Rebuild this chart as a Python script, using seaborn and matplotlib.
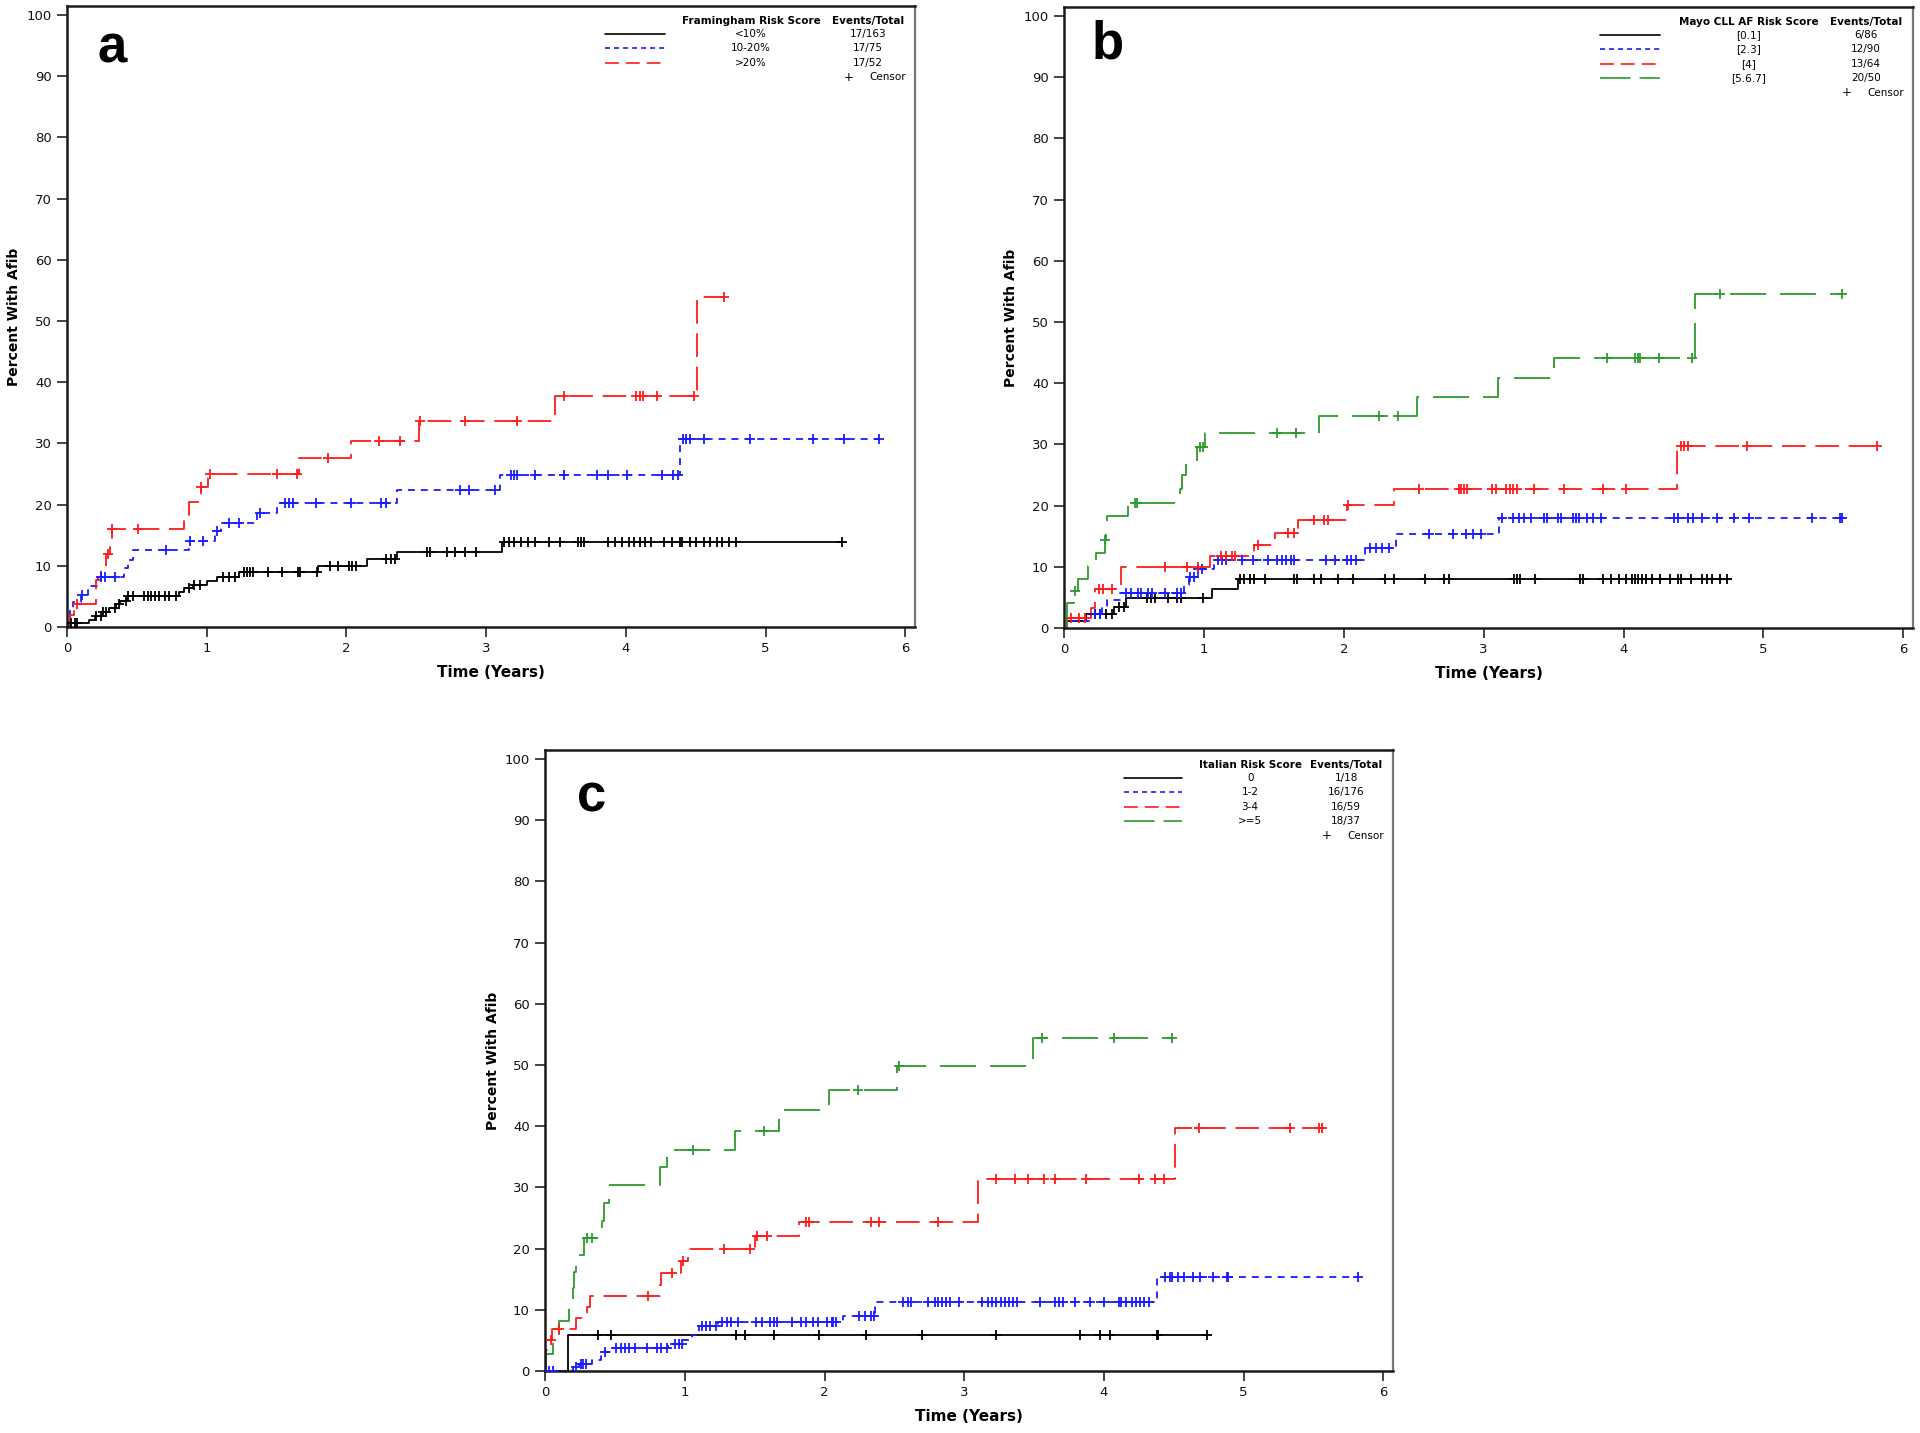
import matplotlib
matplotlib.use("Agg")
import matplotlib.pyplot as plt
import numpy as np
import seaborn as sns

# ---------------- data ----------------
# each curve: step times, cumulative % after each step, end of follow-up, censor times

# panel a - Framingham risk score
A_LOW_T = [0, 0.02, 0.16, 0.20, 0.25, 0.30, 0.35, 0.38, 0.43, 0.80, 0.84, 0.90, 1.00, 1.07, 1.23, 1.80, 2.15, 2.36, 3.11]
A_LOW_Y = [0, 0.6, 1.2, 1.8, 2.5, 3.1, 3.7, 4.3, 5.0, 5.7, 6.3, 6.8, 7.5, 8.2, 9.0, 10.0, 11.1, 12.3, 13.8]
A_LOW_END = 5.56
A_LOW_CENS = [0.03, 0.06, 0.07, 0.21, 0.24, 0.26, 0.28, 0.34, 0.37, 0.42, 0.44, 0.47, 0.55, 0.58, 0.60,
              0.63, 0.66, 0.70, 0.73, 0.78, 0.87, 0.91, 0.95, 1.12, 1.16, 1.20, 1.27, 1.29, 1.31, 1.33,
              1.44, 1.54, 1.65, 1.67, 1.79, 1.88, 1.94, 2.02, 2.04, 2.07, 2.28, 2.32, 2.35, 2.58, 2.60,
              2.72, 2.78, 2.85, 2.93, 3.13, 3.16, 3.20, 3.25, 3.30, 3.35, 3.45, 3.53, 3.66, 3.68, 3.70,
              3.87, 3.92, 3.97, 4.02, 4.06, 4.10, 4.14, 4.18, 4.27, 4.33, 4.39, 4.40, 4.46, 4.50, 4.56,
              4.60, 4.65, 4.69, 4.74, 4.79, 5.55]

A_MID_T = [0, 0.01, 0.02, 0.04, 0.10, 0.15, 0.22, 0.41, 0.44, 0.47, 0.87, 1.06, 1.10, 1.36, 1.50, 2.36, 3.10, 4.39]
A_MID_Y = [0, 1.3, 2.7, 4.0, 5.3, 6.7, 8.1, 9.6, 11.0, 12.5, 14.0, 15.6, 17.0, 18.7, 20.3, 22.4, 24.9, 30.7]
A_MID_END = 5.81
A_MID_CENS = [0.11, 0.24, 0.27, 0.34, 0.71, 0.88, 0.97, 1.07, 1.16, 1.23, 1.38, 1.56, 1.59, 1.62, 1.78,
              2.03, 2.25, 2.28, 2.81, 2.88, 3.06, 3.18, 3.20, 3.22, 3.35, 3.56, 3.79, 3.87, 4.01, 4.26,
              4.34, 4.37, 4.41, 4.43, 4.46, 4.56, 4.89, 5.34, 5.56, 5.81]

A_HIGH_T = [0, 0.02, 0.05, 0.21, 0.24, 0.28, 0.31, 0.32, 0.835, 0.87, 0.96, 1.01, 1.66, 2.03, 2.52, 3.49, 4.51]
A_HIGH_Y = [0, 1.9, 3.8, 7.7, 9.8, 11.9, 14.0, 16.0, 18.3, 20.5, 22.8, 25.0, 27.6, 30.4, 33.7, 37.8, 53.9]
A_HIGH_END = 4.70
A_HIGH_CENS = [0.07, 0.29, 0.32, 0.51, 0.96, 1.02, 1.50, 1.645, 1.87, 2.23, 2.38, 2.53, 2.85, 3.22,
               3.56, 4.07, 4.10, 4.12, 4.22, 4.49, 4.70]

A_TITLE = "Framingham Risk Score"
A_GROUPS = ["<10%", "10-20%", ">20%"]
A_EVENTS = ["17/163", "17/75", "17/52"]

# panel b - Mayo CLL AF risk score
B_01_T = [0, 0.02, 0.16, 0.36, 0.44, 1.06, 1.245]
B_01_Y = [0, 1.2, 2.3, 3.5, 4.9, 6.4, 8.0]
B_01_END = 4.76
B_01_CENS = [0.22, 0.26, 0.30, 0.34, 0.39, 0.43, 0.59, 0.62, 0.65, 0.74, 0.81, 0.835, 0.995, 1.255,
             1.29, 1.33, 1.36, 1.435, 1.645, 1.665, 1.79, 1.835, 1.96, 2.065, 2.295, 2.36, 2.58,
             2.715, 2.75, 3.22, 3.24, 3.26, 3.365, 3.69, 3.71, 3.85, 3.91, 3.97, 4.02, 4.06, 4.08,
             4.10, 4.13, 4.16, 4.20, 4.26, 4.33, 4.39, 4.41, 4.48, 4.56, 4.60, 4.63, 4.69, 4.74]

B_23_T = [0, 0.02, 0.19, 0.27, 0.31, 0.40, 0.86, 0.89, 0.96, 1.07, 2.15, 2.37, 3.11]
B_23_Y = [0, 1.1, 2.3, 3.5, 4.6, 5.7, 7.0, 8.4, 9.7, 11.1, 13.0, 15.3, 18.0]
B_23_END = 5.56
B_23_CENS = [0.22, 0.26, 0.44, 0.48, 0.53, 0.55, 0.60, 0.63, 0.72, 0.81, 0.835, 0.90, 0.93, 0.96,
             0.985, 1.10, 1.13, 1.16, 1.27, 1.35, 1.46, 1.52, 1.56, 1.59, 1.62, 1.645, 1.875, 1.94,
             2.02, 2.05, 2.085, 2.19, 2.23, 2.27, 2.32, 2.61, 2.78, 2.875, 2.925, 2.98, 3.13, 3.21,
             3.25, 3.29, 3.34, 3.43, 3.45, 3.53, 3.555, 3.64, 3.66, 3.68, 3.74, 3.785, 3.84, 4.36,
             4.39, 4.46, 4.50, 4.56, 4.67, 4.79, 4.90, 5.35, 5.55, 5.56]

B_4_T = [0, 0.02, 0.19, 0.22, 0.41, 1.045, 1.36, 1.51, 1.67, 2.02, 2.36, 4.385]
B_4_Y = [0, 1.6, 3.2, 6.4, 9.9, 11.7, 13.6, 15.5, 17.7, 20.1, 22.7, 29.8]
B_4_END = 5.81
B_4_CENS = [0.05, 0.11, 0.15, 0.25, 0.28, 0.34, 0.72, 0.88, 0.96, 1.12, 1.16, 1.20, 1.225, 1.385,
            1.60, 1.645, 1.79, 1.855, 1.885, 2.03, 2.535, 2.82, 2.84, 2.86, 2.88, 3.06, 3.09, 3.16,
            3.19, 3.21, 3.24, 3.36, 3.575, 3.85, 4.02, 4.41, 4.43, 4.46, 4.885, 5.81]

B_567_T = [0, 0.02, 0.07, 0.10, 0.17, 0.23, 0.29, 0.30, 0.31, 0.46, 0.83, 0.84, 0.87, 0.95, 1.01,
           1.82, 2.52, 3.105, 3.50, 4.51]
B_567_Y = [0, 4.0, 6.0, 8.0, 10.1, 12.2, 14.3, 16.3, 18.3, 20.5, 22.7, 25.0, 27.3, 29.6, 31.9,
           34.6, 37.8, 40.9, 44.1, 54.5]
B_567_END = 5.56
B_567_CENS = [0.08, 0.29, 0.51, 0.525, 0.975, 0.995, 1.52, 1.66, 2.25, 2.39, 3.88, 4.08, 4.10, 4.12,
              4.25, 4.49, 4.69, 5.56]

B_TITLE = "Mayo CLL AF Risk Score"
B_GROUPS = ["[0.1]", "[2.3]", "[4]", "[5.6.7]"]
B_EVENTS = ["6/86", "12/90", "13/64", "20/50"]

# panel c - Italian risk score
C_0_T = [0, 0.163]
C_0_Y = [0, 5.8]
C_0_END = 4.74
C_0_CENS = [0.38, 0.47, 1.37, 1.43, 1.64, 1.96, 2.30, 2.70, 3.23, 3.83, 3.97, 4.04, 4.38, 4.39, 4.74]

C_12_T = [0, 0.20, 0.24, 0.335, 0.40, 0.42, 0.47, 0.88, 0.99, 1.05, 1.10, 1.24, 2.13, 2.36, 4.38]
C_12_Y = [0, 0.6, 1.2, 1.8, 2.5, 3.1, 3.7, 4.4, 5.1, 5.8, 7.3, 8.0, 9.0, 11.2, 15.3]
C_12_END = 5.82
C_12_CENS = [0.03, 0.06, 0.22, 0.26, 0.27, 0.29, 0.43, 0.51, 0.545, 0.575, 0.60, 0.64, 0.73, 0.80,
             0.83, 0.87, 0.93, 0.96, 0.98, 1.12, 1.15, 1.18, 1.22, 1.265, 1.30, 1.33, 1.38, 1.51,
             1.55, 1.61, 1.64, 1.66, 1.77, 1.83, 1.87, 1.915, 1.955, 2.02, 2.05, 2.06, 2.08, 2.25,
             2.29, 2.33, 2.355, 2.56, 2.60, 2.62, 2.74, 2.79, 2.81, 2.84, 2.87, 2.90, 2.96, 3.13,
             3.17, 3.20, 3.23, 3.26, 3.29, 3.32, 3.35, 3.38, 3.54, 3.65, 3.68, 3.71, 3.79, 3.90,
             4.00, 4.105, 4.125, 4.155, 4.20, 4.23, 4.26, 4.29, 4.32, 4.44, 4.47, 4.49, 4.53, 4.57,
             4.64, 4.69, 4.78, 4.88, 4.89, 5.82]

C_34_T = [0, 0.005, 0.02, 0.05, 0.22, 0.30, 0.32, 0.82, 0.83, 0.97, 1.02, 1.50, 1.82, 3.10, 4.51]
C_34_Y = [0, 3.4, 5.1, 6.8, 8.6, 10.4, 12.2, 14.1, 16.0, 18.0, 19.9, 22.0, 24.4, 31.3, 39.7]
C_34_END = 5.56
C_34_CENS = [0.04, 0.10, 0.74, 0.91, 0.99, 1.28, 1.47, 1.52, 1.59, 1.87, 1.89, 2.33, 2.39, 2.81,
             3.23, 3.36, 3.46, 3.57, 3.65, 3.875, 4.25, 4.365, 4.43, 4.68, 5.33, 5.54, 5.56]

C_5_T = [0, 0.01, 0.06, 0.10, 0.17, 0.20, 0.21, 0.22, 0.28, 0.41, 0.42, 0.46, 0.82, 0.875, 1.36,
         1.675, 2.03, 2.52, 3.49]
C_5_Y = [0, 2.7, 5.4, 8.1, 10.8, 13.5, 16.2, 18.9, 21.7, 24.5, 27.5, 30.4, 33.3, 36.1, 39.2,
         42.6, 45.9, 49.8, 54.4]
C_5_END = 4.49
C_5_CENS = [0.30, 0.335, 1.06, 1.57, 2.24, 2.53, 3.56, 4.07, 4.49]

C_TITLE = "Italian Risk Score"
C_GROUPS = ["0", "1-2", "3-4", ">=5"]
C_EVENTS = ["1/18", "16/176", "16/59", "18/37"]

X_TICKS = [0, 1, 2, 3, 4, 5, 6]
Y_TICKS = [0, 10, 20, 30, 40, 50, 60, 70, 80, 90, 100]

# ---------------- style ----------------
sns.set_style("ticks")
plt.rcParams["font.family"] = ["DejaVu Sans"]
plt.rcParams["lines.scale_dashes"] = False
plt.rcParams["text.color"] = "black"
plt.rcParams["axes.labelcolor"] = "black"

COLORS = ["black", "#1a1aff", "#ff1a1a", "#2e9a2e"]
LINE_STYLES = ["-", (0, (5, 4.3)), (0, (17, 7)), (0, (26, 10))]
LEGEND_STYLES = ["-", (0, (3.6, 2.9)), (0, (10, 5)), (0, (22, 6.5))]

AX_W, AX_H = 848.0, 621.0  # axes size in pixels


def draw_curve(ax, times, levels, end, cens, idx):
    xs = list(times) + [end]
    ys = list(levels) + [levels[-1]]
    sns.lineplot(x=xs, y=ys, ax=ax, color=COLORS[idx], linestyle=LINE_STYLES[idx],
                 drawstyle="steps-post", estimator=None, sort=False, linewidth=1.3)
    t = np.asarray(times)
    cy = [levels[np.searchsorted(t, c, side="right") - 1] for c in cens]
    sns.scatterplot(x=cens, y=cy, ax=ax, marker="+", s=46, color=COLORS[idx],
                    linewidth=1.3, zorder=3)


def px(ax, dx, dy):
    # offset in pixels from the top-right corner of the axes -> axes fraction
    return 1 + dx / AX_W, 1 - dy / AX_H


def draw_legend(ax, title, groups, events, label_c, line_x):
    fs = 7.5
    x, y = px(ax, label_c, 15)
    ax.text(x, y, title, transform=ax.transAxes, ha="center", va="center",
            fontsize=fs, fontweight="bold")
    x, y = px(ax, -47, 15)
    ax.text(x, y, "Events/Total", transform=ax.transAxes, ha="center", va="center",
            fontsize=fs, fontweight="bold")
    for i, (g, e) in enumerate(zip(groups, events)):
        dy = 28 + 14.5 * i
        x0, y0 = px(ax, line_x[0], dy)
        x1, _ = px(ax, line_x[1], dy)
        ax.plot([x0, x1], [y0, y0], transform=ax.transAxes, color=COLORS[i],
                linestyle=LEGEND_STYLES[i], linewidth=1.2, clip_on=False)
        x, y = px(ax, label_c, dy)
        ax.text(x, y, g, transform=ax.transAxes, ha="center", va="center", fontsize=fs)
        x, y = px(ax, -47, dy)
        ax.text(x, y, e, transform=ax.transAxes, ha="center", va="center", fontsize=fs)
    dy = 28 + 14.5 * len(groups)
    x, y = px(ax, -66, dy)
    ax.text(x, y, "+", transform=ax.transAxes, ha="center", va="center", fontsize=fs + 1)
    x, y = px(ax, -9, dy)
    ax.text(x, y, "Censor", transform=ax.transAxes, ha="right", va="center", fontsize=fs)


def style_axes(ax, letter, lx, ly):
    ax.set_xlim(0, 6.07)
    ax.set_ylim(0, 101.5)
    ax.set_xticks(X_TICKS)
    ax.set_yticks(Y_TICKS)
    ax.tick_params(direction="out", length=7, width=1.1, labelsize=9.5, pad=4,
                   colors="#111111")
    ax.set_xlabel("Time (Years)", fontsize=11, fontweight="bold")
    ax.set_ylabel("Percent With Afib", fontsize=10, fontweight="bold")
    ax.xaxis.set_label_coords(0.5, -0.074)
    ax.xaxis.label.set_va("center")
    ax.yaxis.set_label_coords(-0.062, 0.5)
    ax.yaxis.label.set_va("center")
    for side in ["left", "bottom", "top"]:
        ax.spines[side].set_linewidth(1.8)
        ax.spines[side].set_color("#1a1a1a")
    ax.spines["right"].set_linewidth(1.6)
    ax.spines["right"].set_color("#777777")
    ax.text(lx, ly, letter, transform=ax.transAxes, ha="center", va="center",
            fontsize=38, fontweight="bold", color="black",
            family=["Liberation Sans", "DejaVu Sans"])


fig = plt.figure(figsize=(19.2, 14.33), dpi=100)
ax_a = fig.add_axes([0.0349, 0.5625, 0.4417, 0.4334])
ax_b = fig.add_axes([0.5542, 0.5618, 0.4422, 0.4334])
ax_c = fig.add_axes([0.2839, 0.0433, 0.4417, 0.4334])

# panel a
draw_curve(ax_a, A_LOW_T, A_LOW_Y, A_LOW_END, A_LOW_CENS, 0)
draw_curve(ax_a, A_MID_T, A_MID_Y, A_MID_END, A_MID_CENS, 1)
draw_curve(ax_a, A_HIGH_T, A_HIGH_Y, A_HIGH_END, A_HIGH_CENS, 2)
style_axes(ax_a, "a", 0.053, 0.932)
draw_legend(ax_a, A_TITLE, A_GROUPS, A_EVENTS, -164, (-310, -250))

# panel b
draw_curve(ax_b, B_01_T, B_01_Y, B_01_END, B_01_CENS, 0)
draw_curve(ax_b, B_23_T, B_23_Y, B_23_END, B_23_CENS, 1)
draw_curve(ax_b, B_4_T, B_4_Y, B_4_END, B_4_CENS, 2)
draw_curve(ax_b, B_567_T, B_567_Y, B_567_END, B_567_CENS, 3)
style_axes(ax_b, "b", 0.051, 0.939)
draw_legend(ax_b, B_TITLE, B_GROUPS, B_EVENTS, -164, (-313, -253))

# panel c
draw_curve(ax_c, C_0_T, C_0_Y, C_0_END, C_0_CENS, 0)
draw_curve(ax_c, C_12_T, C_12_Y, C_12_END, C_12_CENS, 1)
draw_curve(ax_c, C_34_T, C_34_Y, C_34_END, C_34_CENS, 2)
draw_curve(ax_c, C_5_T, C_5_Y, C_5_END, C_5_CENS, 3)
style_axes(ax_c, "c", 0.055, 0.923)
draw_legend(ax_c, C_TITLE, C_GROUPS, C_EVENTS, -143, (-269, -211))

fig.savefig("out.png", dpi=100)
